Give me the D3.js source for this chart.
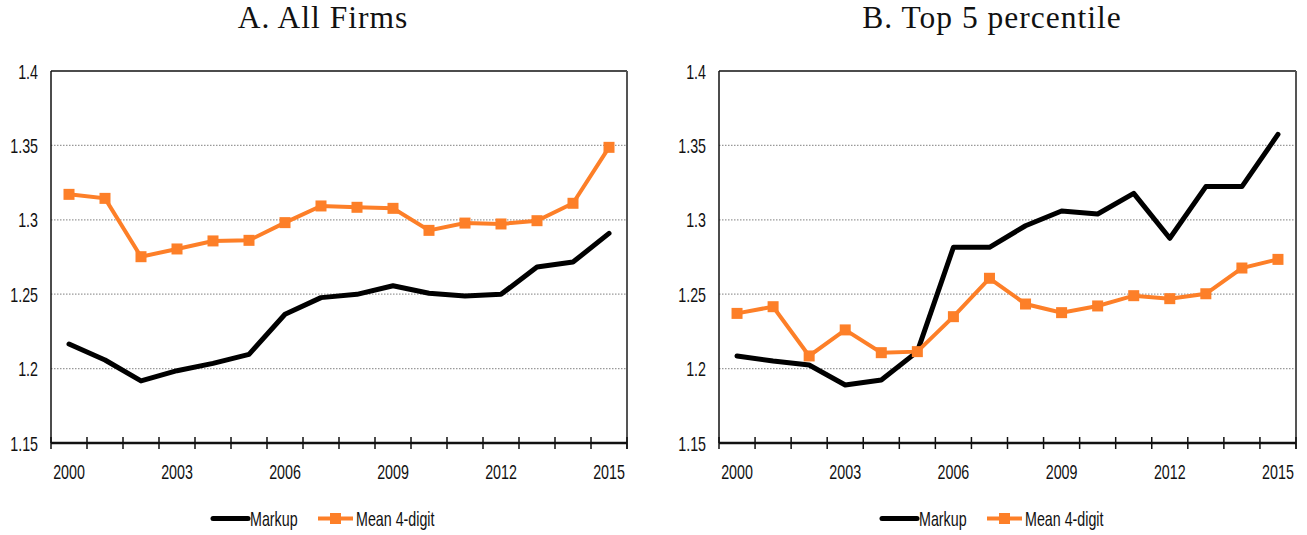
<!DOCTYPE html>
<html><head><meta charset="utf-8">
<script src="https://cdn.jsdelivr.net/npm/d3@7"></script>
<style>
body{margin:0;background:#fff;}
</style></head>
<body><svg id="c" width="1307" height="535"></svg>
<script>
const years = [2000,2001,2002,2003,2004,2005,2006,2007,2008,2009,2010,2011,2012,2013,2014,2015];
const yTicks = [1.15,1.2,1.25,1.3,1.35,1.4];
const xLabelYears = [2000,2003,2006,2009,2012,2015];
const markupA = [1.2165,1.2058,1.1917,1.1986,1.2035,1.2096,1.2365,1.2477,1.2499,1.2557,1.2506,1.2488,1.2499,1.2683,1.2716,1.2909];
const meanA   = [1.3171,1.3144,1.2752,1.2804,1.2858,1.2862,1.2981,1.3093,1.3084,1.3077,1.2929,1.2978,1.2972,1.2994,1.3111,1.3487];
const markupB = [1.2085,1.2051,1.2024,1.1890,1.1923,1.2114,1.2815,1.2815,1.2960,1.3059,1.3039,1.3178,1.2876,1.3223,1.3223,1.3574];
const meanB   = [1.2371,1.2416,1.2085,1.2260,1.2107,1.2114,1.2349,1.2607,1.2434,1.2376,1.2421,1.2490,1.2470,1.2503,1.2676,1.2734];
const titles = ["A. All Firms","B. Top 5 percentile"];
const seriesNames = ["Markup","Mean 4-digit"];

(function(){
const svg = d3.select("#c");
const ORANGE = "#fd7f28";
const panels = [
  {x0:51, x1:627, title:titles[0], tcx:323, m:markupA, o:meanA, leg:213},
  {x0:719, x1:1296, title:titles[1], tcx:992, m:markupB, o:meanB, leg:882}
];
const yTop=71, yBot=443;
const yDom=[1.15,1.4];
const SX = 0.68;

function narrowText(g, x, y, str, anchor, size){
  return g.append("text")
    .attr("transform",`translate(${x},${y}) scale(${SX},1)`)
    .attr("text-anchor",anchor)
    .attr("font-family","'Liberation Sans',Arial,sans-serif")
    .attr("font-size",size).attr("fill","#111").text(str);
}

panels.forEach(p=>{
  const g = svg.append("g");
  const x = d3.scaleBand().domain(years).range([p.x0,p.x1]);
  const y = d3.scaleLinear().domain(yDom).range([yBot,yTop]);
  const cx = d => x(d)+x.bandwidth()/2;

  g.append("text").attr("x",p.tcx).attr("y",27.5).attr("text-anchor","middle")
   .attr("font-family","'Liberation Serif','DejaVu Serif',serif").attr("font-size",31.5)
   .attr("letter-spacing","1px").attr("fill","#111")
   .text(p.title);

  g.selectAll(".grid").data(yTicks.filter(t=>t>1.15 && t<1.4)).enter().append("line")
   .attr("x1",p.x0).attr("x2",p.x1).attr("y1",d=>y(d)).attr("y2",d=>y(d))
   .attr("stroke","#999").attr("stroke-width",1.2).attr("stroke-dasharray","1.5,1.5");

  g.append("line").attr("x1",p.x0).attr("x2",p.x1).attr("y1",yTop).attr("y2",yTop).attr("stroke","#111").attr("stroke-width",1.5);
  g.append("line").attr("x1",p.x0).attr("x2",p.x0).attr("y1",yTop).attr("y2",yBot).attr("stroke","#111").attr("stroke-width",1.5);
  g.append("line").attr("x1",p.x1).attr("x2",p.x1).attr("y1",yTop).attr("y2",yBot+6).attr("stroke","#555").attr("stroke-width",2);

  yTicks.forEach(t=>{
    narrowText(g, p.x0-13, y(t)+7.5, String(+t.toFixed(2)), "end", 21);
  });

  const bounds = years.map(d=>x(d)).concat([p.x1]);
  g.append("line").attr("x1",p.x0).attr("x2",p.x1).attr("y1",yBot).attr("y2",yBot).attr("stroke","#111").attr("stroke-width",2.5);
  g.selectAll(".xt").data(bounds).enter().append("line")
   .attr("x1",d=>d).attr("x2",d=>d).attr("y1",yBot-6).attr("y2",yBot+6).attr("stroke","#111").attr("stroke-width",1.5);
  xLabelYears.forEach(yr=>{
    narrowText(g, cx(yr), 478.5, String(yr), "middle", 21);
  });

  const line = d3.line().x((d,i)=>cx(years[i])).y(d=>y(d));
  g.append("path").datum(p.m).attr("d",line).attr("fill","none").attr("stroke","#000").attr("stroke-width",5).attr("stroke-linejoin","round").attr("stroke-linecap","round");
  g.append("path").datum(p.o).attr("d",line).attr("fill","none").attr("stroke",ORANGE).attr("stroke-width",4).attr("stroke-linejoin","miter");
  g.selectAll(".mk").data(p.o).enter().append("rect")
   .attr("x",(d,i)=>cx(years[i])-5.5).attr("y",d=>y(d)-5.5).attr("width",11).attr("height",11).attr("fill",ORANGE);

  const ly=518.5;
  g.append("line").attr("x1",p.leg).attr("x2",p.leg+35).attr("y1",ly).attr("y2",ly).attr("stroke","#000").attr("stroke-width",5).attr("stroke-linecap","round");
  narrowText(g, p.leg+37, 525.5, seriesNames[0], "start", 21);
  const lx2=p.leg+105;
  g.append("line").attr("x1",lx2).attr("x2",lx2+35).attr("y1",ly).attr("y2",ly).attr("stroke",ORANGE).attr("stroke-width",4);
  g.append("rect").attr("x",lx2+17.5-5.5).attr("y",ly-5.5).attr("width",11).attr("height",11).attr("fill",ORANGE);
  narrowText(g, lx2+38, 525.5, seriesNames[1], "start", 21);
});
})();
</script></body></html>
